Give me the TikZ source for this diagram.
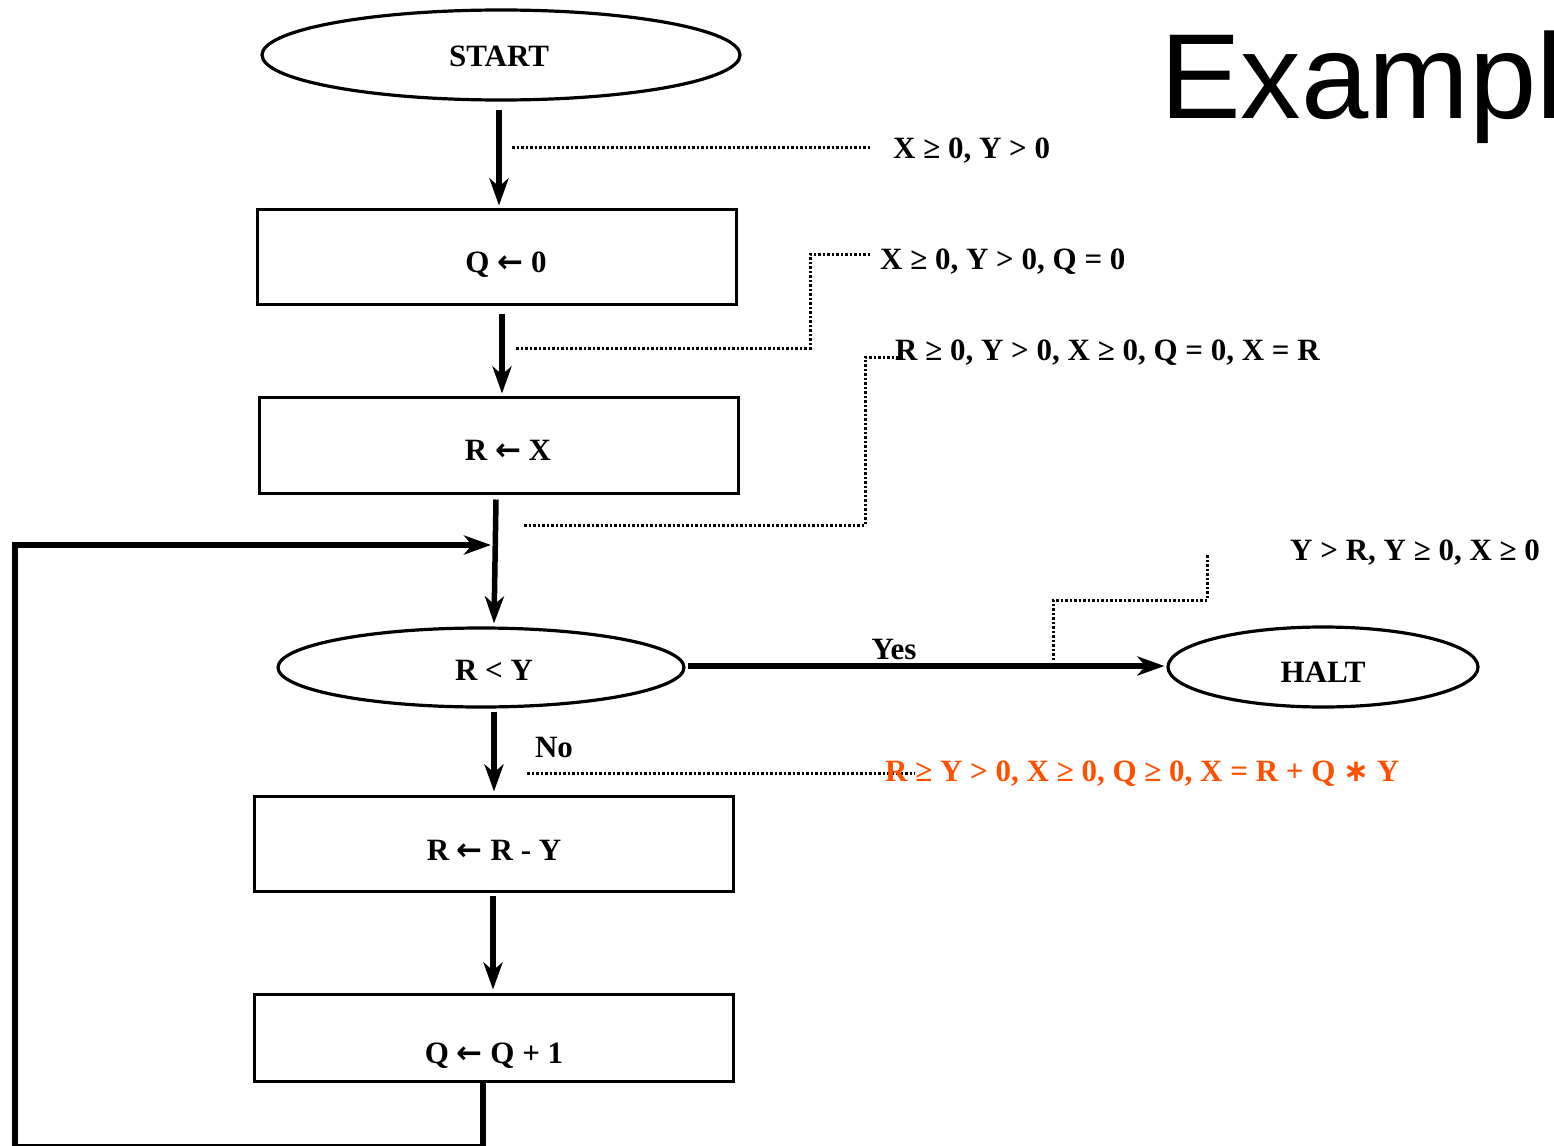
\documentclass[tikz,border=0pt]{standalone}
\usepackage{fontspec}
\setmainfont{Liberation Serif}
\newfontfamily\arialfont{Liberation Sans}
\newfontfamily\symfont{DejaVu Sans}
\usetikzlibrary{shapes.geometric,arrows.meta,calc}
\definecolor{orng}{RGB}{255,80,0}
\newcommand{\larr}{{\symfont\bfseries ←}}
\newcommand{\mystar}{{\symfont\bfseries ∗}}
\tikzset{
  box/.style={draw, line width=3pt, inner sep=0pt},
  oval/.style={draw, ellipse, line width=3.2pt, inner sep=0pt},
  lbl/.style={font=\fontsize{31}{34}\selectfont\bfseries, inner sep=0pt, anchor=base},
  ann/.style={font=\fontsize{31}{34}\selectfont\bfseries, inner sep=0pt, anchor=base west},
  flow/.style={line width=5.5pt, -{Stealth[length=27pt,width=19pt,inset=8pt]}},
  dots/.style={line width=3pt, dash pattern=on 2.5pt off 2pt},
}
\begin{document}
\begin{tikzpicture}[x=1pt,y=-1pt]
\useasboundingbox (0,0) rectangle (1554,1145);
\fill[white] (0,0) rectangle (1554,1145);

% title
\node[font=\arialfont\fontsize{121}{130}\selectfont, inner sep=0pt, anchor=base west] (title) at (1160,119) {Example};

% shapes
\node[oval, minimum width=478pt, minimum height=90pt] (start) at (501,55) {};
\node[box, minimum width=479pt, minimum height=95pt] (q0) at (496.5,256.5) {};
\node[box, minimum width=479pt, minimum height=96pt] (rx) at (498.5,445) {};
\node[oval, minimum width=406pt, minimum height=79pt] (ry) at (481,667.5) {};
\node[oval, minimum width=310pt, minimum height=80pt] (halt) at (1323,667) {};
\node[box, minimum width=479pt, minimum height=95pt] (rry) at (493.5,843.5) {};
\node[box, minimum width=479pt, minimum height=87pt] (qq) at (493.5,1037.5) {};

% labels in shapes
\node[lbl] (tstart) at (499,67) {START};
\node[lbl] (tq0) at (506,272) {Q \larr\ 0};
\node[lbl] (trx) at (508,460) {R \larr\ X};
\node[lbl] (try) at (494,680) {R < Y};
\node[lbl] (thalt) at (1323,682) {HALT};
\node[lbl] (trry) at (494,860) {R \larr\ R - Y};
\node[lbl] (tqq) at (494,1063) {Q \larr\ Q + 1};
\node[lbl] (yes) at (894,659) {Yes};
\node[lbl] (no) at (554,757) {No};

% annotations
\node[ann] (a1) at (893,158) {X ≥ 0, Y > 0};
\node[ann] (a2) at (880,269) {X ≥ 0, Y > 0, Q = 0};
\node[ann] (a3) at (895,360) {R ≥ 0, Y > 0, X ≥ 0, Q = 0, X = R};
\node[ann] (a4) at (1290,560) {Y > R, Y ≥ 0, X ≥ 0};

% dotted leaders
\coordinate (d1a) at (512,147); \coordinate (d1b) at (870,147);
\draw[dots] (d1a) -- (d1b);
\coordinate (d2a) at (516,348); \coordinate (d2b) at (870,254);
\draw[dots] (d2a) -- (810,348) -- (810,254) -- (d2b);
\coordinate (d3a) at (524,525); \coordinate (d3b) at (905,357);
\draw[dots] (d3a) -- (865,525) -- (865,357) -- (d3b);
\coordinate (d4a) at (1053,660); \coordinate (d4b) at (1207,555);
\draw[dots] (d4a) -- (1053,600) -- (1207,600) -- (d4b);
\coordinate (d5a) at (527,773); \coordinate (d5b) at (915,773);
\draw[dots] (d5a) -- (d5b);

\node[ann, text=orng] (a5) at (885,781) {R ≥ Y > 0, X ≥ 0, Q ≥ 0, X = R + Q \mystar\ Y};

% flow arrows
\draw[flow] ($(start.south)+(-2,8)$) -- ($(q0.north)+(2.5,-2)$);
\draw[flow] ($(q0.south)+(5.5,8)$) -- ($(rx.north)+(3.5,-2)$);
\draw[flow] ($(rx.south)+(-2.5,5)$) -- ($(ry.north)+(13,-3)$);
\draw[flow] ($(ry.east)+(2,-1.5)$) -- ($(halt.west)+(-2,-1)$);
\draw[flow] ($(ry.south)+(13,3)$) -- ($(rry.north)+(0.5,-3)$);
\draw[flow] ($(rry.south)+(-0.5,3)$) -- ($(qq.north)+(-0.5,-3)$);

% loop back
\coordinate (lp1) at (483,1146.5);
\coordinate (lp2) at (15,1146.5);
\coordinate (lp3) at (15,545);
\coordinate (join) at (491,545);
\draw[flow] ($(qq.south)+(-10.5,0)$) -- (lp1) -- (lp2) -- (lp3) -- (join);
\end{tikzpicture}
\end{document}
